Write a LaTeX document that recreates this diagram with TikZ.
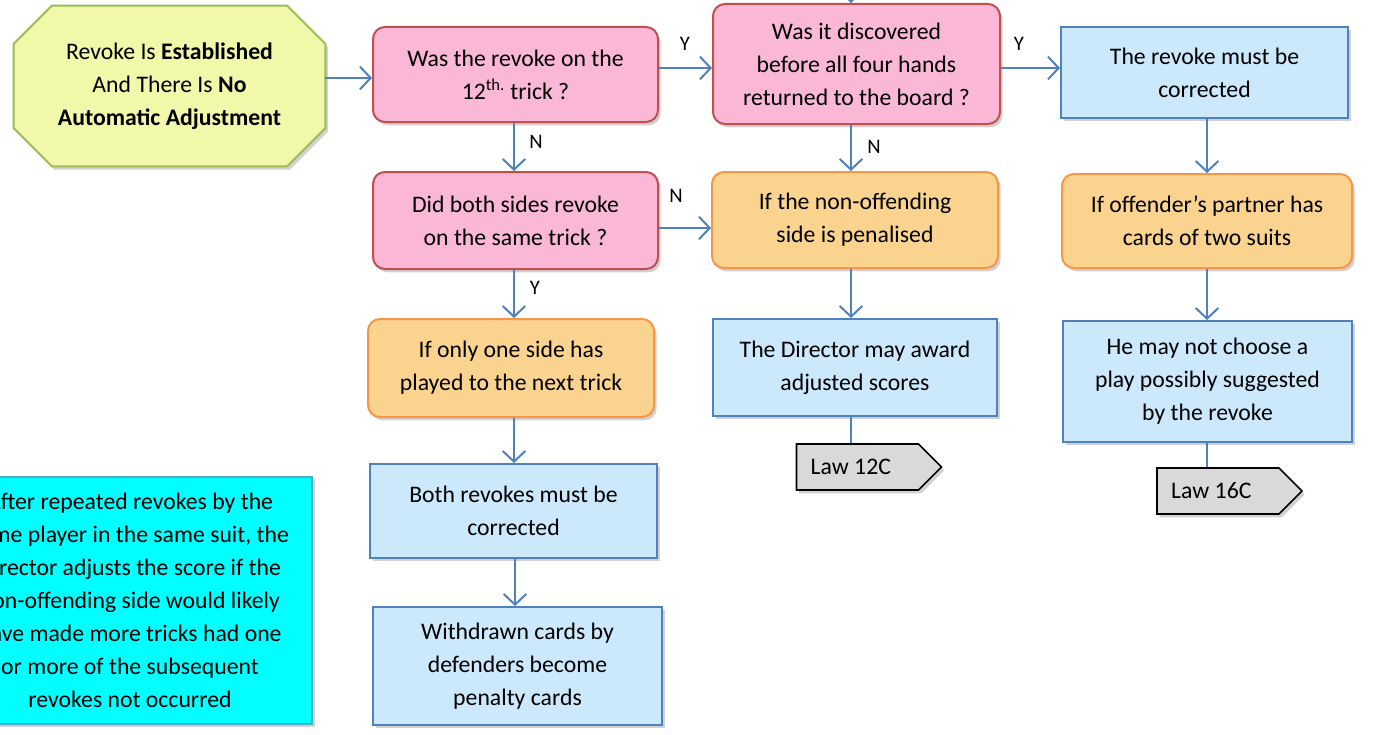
\documentclass[tikz,border=0pt]{standalone}
\usepackage{fontspec}
\setmainfont{Carlito}
\usetikzlibrary{arrows.meta,shapes.symbols,shadows,backgrounds}
\definecolor{pinkF}{HTML}{FBB8D6}
\definecolor{pinkD}{HTML}{C0504D}
\definecolor{orgF}{HTML}{FAD48F}
\definecolor{orgD}{HTML}{F79646}
\definecolor{bluF}{HTML}{CCE9FC}
\definecolor{bluD}{HTML}{4F81BD}
\definecolor{octF}{HTML}{F1F8A9}
\definecolor{octD}{HTML}{9BBB59}
\definecolor{cyaF}{HTML}{00FFFF}
\definecolor{cyaD}{HTML}{4BACC6}
\definecolor{arrC}{HTML}{4F81BD}
\newcommand\bodyfs{\fontsize{17.8pt}{24.75pt}\selectfont}
\newcommand\lblfs{\fontsize{15.5pt}{17pt}\selectfont}
\tikzset{
  sz/.style 2 args={minimum width={#1*0.75pt}, minimum height={#2*0.75pt}},
  shad/.style={drop shadow={shadow xshift=2pt, shadow yshift=-2.5pt, opacity=0.3, fill=black!60}},
  base/.style={font=\bodyfs, align=center, line width=1.5pt, inner sep=2pt, shad},
  pinkbox/.style={base, rounded corners=9pt, fill=pinkF, draw=pinkD},
  orgbox/.style={base, rounded corners=9pt, fill=orgF, draw=orgD},
  blubox/.style={base, fill=bluF, draw=bluD},
  octtext/.style={font=\bodyfs, align=center, inner sep=0pt},
  octshape/.style={shad, fill=octF, draw=octD, line width=1.5pt, line join=miter},
  lawbox/.style={base, signal, signal to=east, signal pointer angle=90, fill=black!15, draw=black, line width=1.2pt},
  notebox/.style={base, fill=cyaF, draw=cyaD},
  arr/.style={draw=arrC, line width=1.5pt, -{Straight Barb[length=8pt,width=17pt,line width=1.5pt]}},
  ln/.style={draw=arrC, line width=1.5pt},
  lbl/.style={font=\lblfs, inner sep=0pt}
}
\begin{document}
\begin{tikzpicture}[x=0.75pt,y=-0.75pt]
\useasboundingbox (0,0) rectangle (1385,735);
\node[octtext, sz={311}{160}] (oct) at (169.5,86)
  {Revoke Is \textbf{Established}\\And There Is \textbf{No}\\\textbf{Automatic Adjustment}};
\begin{scope}[on background layer]
\path[octshape] ([xshift=28.5pt]oct.north west) -- ([xshift=-28.5pt]oct.north east)
  -- ([yshift=-28.5pt]oct.north east) -- ([yshift=28.5pt]oct.south east)
  -- ([xshift=-28.5pt]oct.south east) -- ([xshift=28.5pt]oct.south west)
  -- ([yshift=28.5pt]oct.south west) -- ([yshift=-28.5pt]oct.north west) -- cycle;
\end{scope}
\node[pinkbox, sz={285}{95}] (b1) at (515.5,74.5) {Was the revoke on the\\12\textsuperscript{th.} trick ?};
\node[pinkbox, sz={287}{120}] (b2) at (856.5,64) {Was it discovered\\before all four hands\\returned to the board ?};
\node[blubox, sz={287}{91}] (b3) at (1204.5,72.5) {The revoke must be\\corrected};
\node[pinkbox, sz={285}{97}] (b4) at (515.5,220.5) {Did both sides revoke\\on the same trick ?};
\node[orgbox, sz={286}{96}] (b5) at (855,220) {If the non-offending\\side is penalised};
\node[orgbox, sz={290}{94}] (b6) at (1207,221) {If offender’s partner has\\cards of two suits};
\node[orgbox, sz={286}{98}] (b7) at (511,368) {If only one side has\\played to the next trick};
\node[blubox, sz={284}{97}] (b8) at (855,367.5) {The Director may award\\adjusted scores};
\node[blubox, sz={289}{121}] (b9) at (1207.5,381.5) {He may not choose a\\play possibly suggested\\by the revoke};
\node[blubox, sz={287}{94}] (b10) at (513.5,511) {Both revokes must be\\corrected};
\node[blubox, sz={289}{118}] (b11) at (517.5,666) {Withdrawn cards by\\defenders become\\penalty cards};
\node[lawbox, sz={145}{46}] (l12) at (857.5,467) {Law 12C\hspace{10pt}};
\node[lawbox, sz={145}{46}] (l16) at (1218,491) {Law 16C\hspace{10pt}};
\node[notebox, sz={364}{247}] (note) at (130,600.5)
  {After repeated revokes by the\\same player in the same suit, the\\Director adjusts the score if the\\non-offending side would likely\\have made more tricks had one\\or more of the subsequent\\revokes not occurred};
\coordinate (top) at (851,-25);
% connectors
\draw[arr] (oct.east |- 0,78) -- (b1.west |- 0,78);
\draw[arr] (b1.east |- 0,68) -- (b2.west |- 0,68);
\draw[arr] (b2.east |- 0,68) -- (b3.west |- 0,68);
\draw[arr] (top) -- (top |- b2.north);
\draw[arr] (b1.south -| 514,0) -- (b4.north -| 514,0);
\draw[arr] (b2.south -| 851,0) -- (b5.north -| 851,0);
\draw[arr] (b3.south -| 1207,0) -- (b6.north -| 1207,0);
\draw[arr] (b4.east |- 0,228) -- (b5.west |- 0,228);
\draw[arr] (b4.south -| 514,0) -- (b7.north -| 514,0);
\draw[arr] (b5.south -| 851,0) -- (b8.north -| 851,0);
\draw[arr] (b6.south -| 1207,0) -- (b9.north -| 1207,0);
\draw[arr] (b7.south -| 514,0) -- (b10.north -| 514,0);
\draw[arr] (b10.south -| 515,0) -- (b11.north -| 515,0);
\draw[ln] (b8.south -| 851,0) -- (l12.north -| 851,0);
\draw[ln] (b9.south -| 1207,0) -- (l16.north -| 1207,0);
% labels
\node[lbl] (y1) at (685,44) {Y};
\node[lbl] (y2) at (1019,44) {Y};
\node[lbl] (n1) at (536,142) {N};
\node[lbl] (n2) at (676,196) {N};
\node[lbl] (n3) at (874,147) {N};
\node[lbl] (y3) at (535,288) {Y};
\end{tikzpicture}
\end{document}
